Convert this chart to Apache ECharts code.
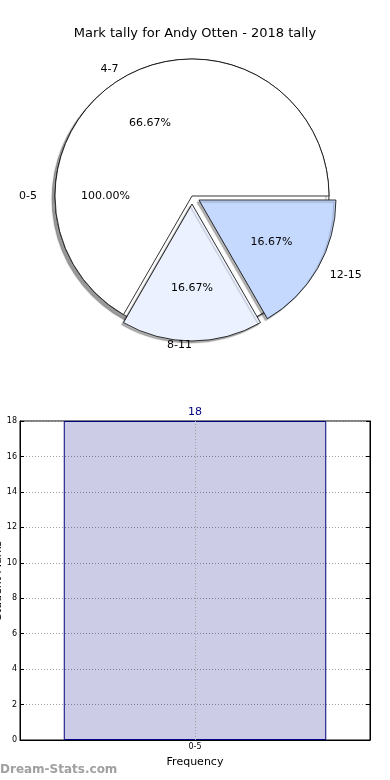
<!DOCTYPE html>
<html>
<head>
<meta charset="utf-8">
<script src="https://cdn.jsdelivr.net/npm/echarts@6/dist/echarts.min.js"></script>
<style>
html,body{margin:0;padding:0;background:#fff;}
#c{width:390px;height:780px;}
</style>
</head>
<body>
<div id="c"></div>
<script>
var titleText = 'Mark tally for Andy Otten - 2018 tally';
var pieCategories = ['0-5', '4-7', '8-11', '12-15'];
var pieShares = [100.00, 66.67, 16.67, 16.67];
var pieColors = ['#ffffff', '#ffffff', '#ebf1fe', '#c5d9fe'];
var barCategories = ['0-5'];
var barValues = [18];
var yTicks = [0, 2, 4, 6, 8, 10, 12, 14, 16, 18];

var FONT = 'DejaVu Sans';
var cx = 192, cy = 196, R = 137;

function pct(v) { return v.toFixed(2) + '%'; }

var baseData = [{
  name: pieCategories[0], value: pieShares[0],
  itemStyle: { color: pieColors[0] }
}];
var restData = pieCategories.slice(1).map(function (c, i) {
  var exploded = i > 0;
  return {
    name: c, value: pieShares[i + 1],
    selected: exploded,
    itemStyle: exploded
      ? { color: pieColors[i + 1], shadowColor: 'rgba(0,0,0,0.3)', shadowBlur: 1, shadowOffsetX: -2, shadowOffsetY: 2 }
      : { color: pieColors[i + 1] },
    labelLine: { length: i === 2 ? 14 : (i === 1 ? 4 : 10) }
  };
});

var commonPie = {
  type: 'pie', center: [cx, cy], startAngle: 0, clockwise: false,
  animation: false, silent: true, avoidLabelOverlap: false,
  emphasis: { disabled: true }
};

function outerLabels() {
  return {
    show: true, position: 'outside', formatter: '{b}',
    fontFamily: FONT, fontSize: 11, color: '#000', distanceToLabelLine: 0
  };
}

var series = [
  Object.assign({}, commonPie, {
    radius: [0, R], data: baseData,
    itemStyle: { borderColor: '#000', borderWidth: 0.8,
      shadowColor: 'rgba(0,0,0,0.4)', shadowBlur: 1, shadowOffsetX: -3, shadowOffsetY: 3 },
    label: outerLabels(),
    labelLine: { show: false, length: 18, length2: 0 }
  }),
  Object.assign({}, commonPie, {
    radius: [0, R * 1.22], data: baseData.map(function (d) { return { name: d.name, value: d.value }; }),
    itemStyle: { color: 'rgba(0,0,0,0)', borderWidth: 0 },
    label: { show: true, position: 'inside', formatter: function (p) { return pct(p.value); },
      fontFamily: FONT, fontSize: 11, color: '#000' },
    labelLine: { show: false }
  }),
  Object.assign({}, commonPie, {
    radius: [0, R], data: restData,
    selectedMode: 'multiple', selectedOffset: 8,
    itemStyle: { borderColor: '#000', borderWidth: 0.8 },
    label: outerLabels(),
    labelLine: { show: false, length: 10, length2: 0 }
  }),
  Object.assign({}, commonPie, {
    radius: [0, R * 1.18], data: restData.map(function (d) { return { name: d.name, value: d.value, selected: d.selected }; }),
    selectedMode: 'multiple', selectedOffset: 8,
    itemStyle: { color: 'rgba(0,0,0,0)', borderWidth: 0 },
    label: { show: true, position: 'inside', formatter: function (p) { return pct(p.value); },
      fontFamily: FONT, fontSize: 11, color: '#000' },
    labelLine: { show: false }
  }),
  {
    type: 'bar', xAxisIndex: 0, yAxisIndex: 0, data: barValues,
    barWidth: '75%', animation: false, silent: true,
    itemStyle: { color: 'rgba(0,0,128,0.2)', borderColor: '#000080', borderWidth: 1 },
    label: { show: true, position: 'top', distance: 3, color: '#000080', fontFamily: FONT, fontSize: 11 },
    markLine: {
      silent: true, symbol: 'none', animation: false,
      label: { show: false },
      lineStyle: { color: '#a0a0a0', type: [1, 2], width: 1 },
      data: [{ xAxis: barCategories[0] }]
    }
  }
];

var chart = echarts.init(document.getElementById('c'), null, { renderer: 'canvas' });
chart.setOption({
  backgroundColor: '#fff',
  animation: false,
  textStyle: { fontFamily: FONT },
  title: {
    text: titleText, left: 'center', top: 22,
    textStyle: { fontFamily: FONT, fontSize: 13, fontWeight: 'normal', color: '#000' }
  },
  grid: { left: 20, right: 20, top: 421, bottom: 40, containLabel: false, outerBoundsMode: 'none',
    show: true, borderColor: '#000', borderWidth: 1, backgroundColor: 'transparent' },
  xAxis: [{
    type: 'category', data: barCategories, boundaryGap: true,
    name: 'Frequency', nameLocation: 'middle', nameGap: 17, nameMoveOverlap: false,
    nameTextStyle: { fontFamily: FONT, fontSize: 11, color: '#000' },
    axisLine: { lineStyle: { color: '#000' } },
    axisTick: { inside: true, alignWithLabel: true, length: 4, lineStyle: { color: '#000' } },
    axisLabel: { fontFamily: FONT, fontSize: 8, color: '#000', margin: 3 },
    splitLine: { show: false }
  }],
  yAxis: [{
    type: 'value', min: 0, max: 18, interval: 2,
    name: 'Student Marks', nameLocation: 'middle', nameGap: 16, nameRotate: 90, nameMoveOverlap: false,
    nameTextStyle: { fontFamily: FONT, fontSize: 11, color: '#000' },
    axisLine: { show: true, lineStyle: { color: '#000' } },
    axisTick: { show: true, inside: true, length: 4, lineStyle: { color: '#000' } },
    axisLabel: { fontFamily: FONT, fontSize: 8, color: '#000', margin: 3 },
    splitLine: { show: true, lineStyle: { color: '#a0a0a0', type: [1, 2], width: 1 } }
  }, {
    type: 'value', min: 0, max: 18, interval: 2, position: 'right',
    axisLine: { show: true, lineStyle: { color: '#000' } },
    axisTick: { show: true, inside: true, length: 4, lineStyle: { color: '#000' } },
    axisLabel: { show: false },
    splitLine: { show: false }
  }],
  graphic: [{
    type: 'text', left: 0, top: 764,
    style: { text: 'Dream-Stats.com', font: 'bold 12px "DejaVu Sans"', fill: '#a0a0a0' }
  }],
  series: series
});
</script>
</body>
</html>
